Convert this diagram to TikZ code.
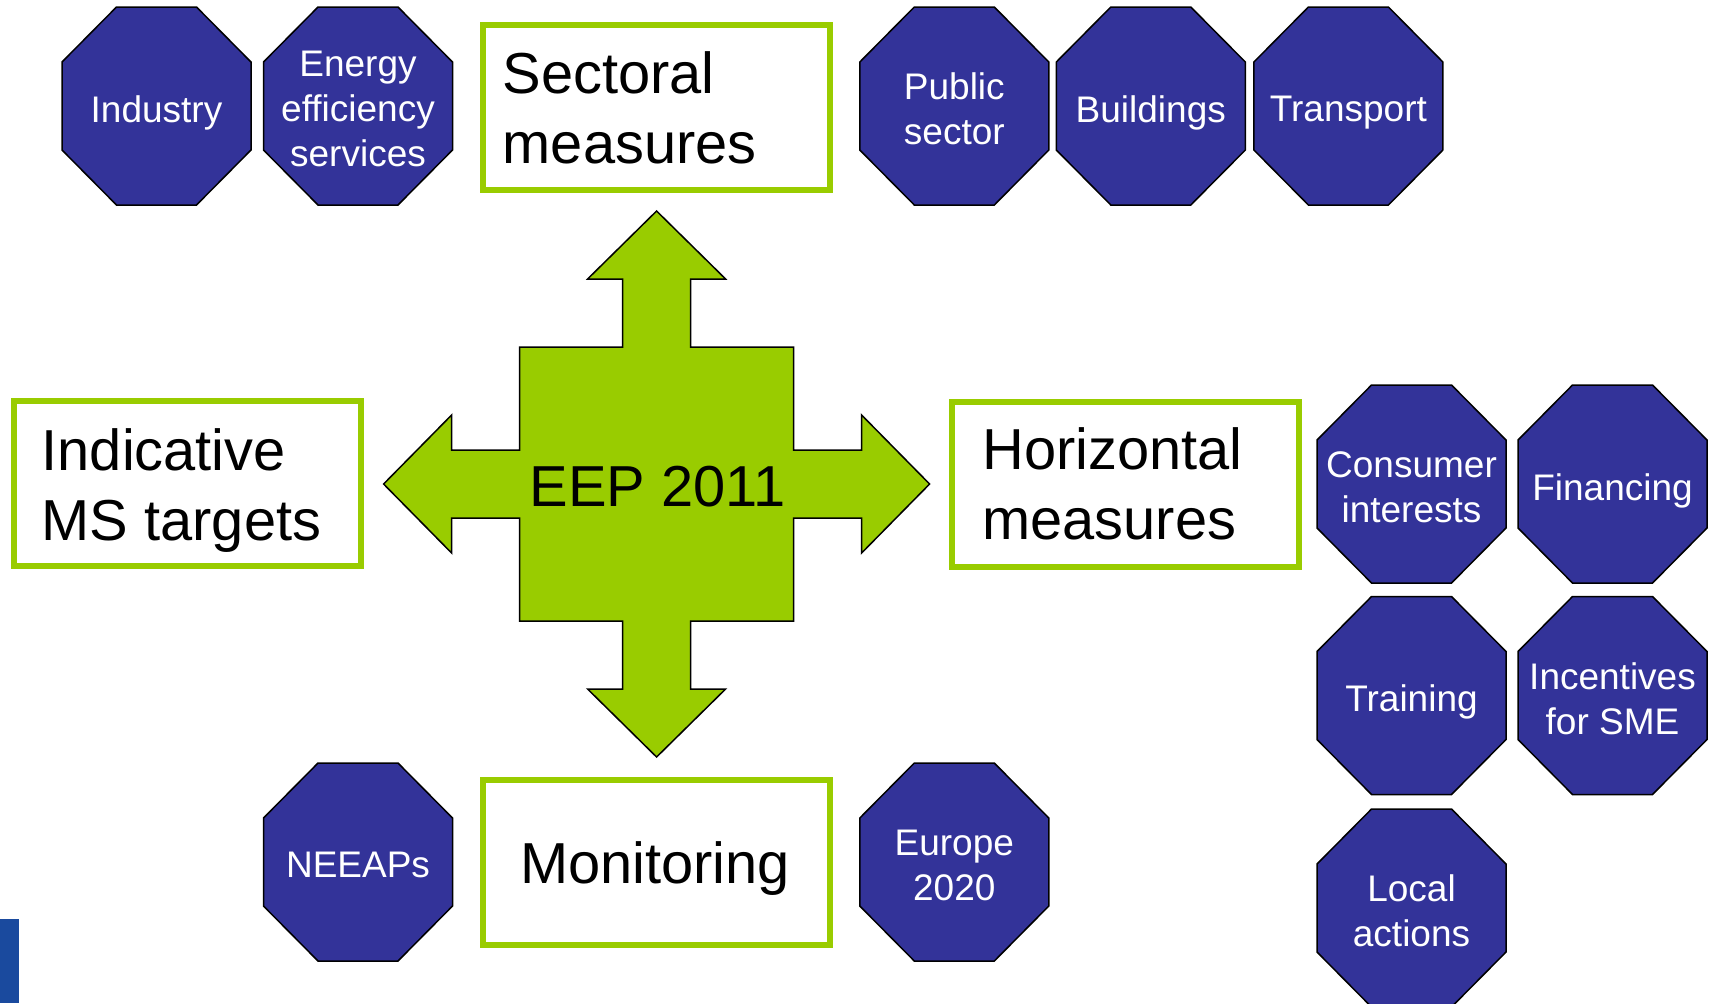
\documentclass[tikz,border=0pt]{standalone}
\usepackage{fontspec}
\setmainfont{Liberation Sans}
\definecolor{octblue}{HTML}{333399}
\definecolor{eegreen}{HTML}{99CC00}
\definecolor{edgeblue}{HTML}{1A4A9E}
\tikzset{
  octfill/.style={fill=octblue, draw=black, line width=0.75pt, line join=miter},
  octtext/.style={text=white, align=center, inner sep=0pt, text depth=0pt,
    font=\fontsize{18.5}{22.5}\selectfont},
  greenbox/.style={draw=eegreen, line width=3pt, fill=white,
    minimum width=173.5pt, minimum height=82.5pt, inner sep=0pt},
  boxtext/.style={anchor=base west, inner sep=0pt, font=\fontsize{28.9}{35}\selectfont},
  centertext/.style={anchor=base, inner sep=0pt, font=\fontsize{28.9}{35}\selectfont},
  crossshape/.style={fill=eegreen, draw=black, line width=0.75pt, line join=miter},
}
\newcommand{\octagon}[4]{%
  \draw[octfill, shift={(#2,#3)}] (-94.5,-44) -- (-94.5,44) -- (-40,99) -- (40,99)
    -- (94.5,44) -- (94.5,-44) -- (40,-99) -- (-40,-99) -- cycle;
  \node[octtext] (#1) at (#2,#3+3) {#4};}
\begin{document}
\begin{tikzpicture}[x=0.5pt, y=-0.5pt]
\useasboundingbox[fill=white] (0,0) rectangle (1712,1003);

% central cross
\draw[crossshape, shift={(656.6,484)}]
  (0,-273) -- (69,-205) -- (34,-205) -- (34,-137) -- (137,-137) -- (137,-34)
  -- (205,-34) -- (205,-69) -- (273,0) -- (205,69) -- (205,34) -- (137,34)
  -- (137,137) -- (34,137) -- (34,205) -- (69,205) -- (0,273) -- (-69,205)
  -- (-34,205) -- (-34,137) -- (-137,137) -- (-137,34) -- (-205,34) -- (-205,69)
  -- (-273,0) -- (-205,-69) -- (-205,-34) -- (-137,-34) -- (-137,-137)
  -- (-34,-137) -- (-34,-205) -- (-69,-205) -- cycle;
\node[centertext] (eep) at (657.5,506.3) {EEP 2011};

% green boxes
\node[greenbox] (sect) at (656.5,107.2) {};
\node[boxtext] (sect-t) at (502.4,93) {\parbox[t]{150pt}{Sectoral\\measures}};
\node[greenbox] (horiz) at (1125,484.5) {};
\node[boxtext] (horiz-t) at (982,469) {\parbox[t]{150pt}{Horizontal\\measures}};
\node[greenbox] (indic) at (187.5,483.5) {};
\node[boxtext] (indic-t) at (41.3,470.7) {\parbox[t]{150pt}{Indicative\\MS targets}};
\node[greenbox] (monit) at (656.5,862.5) {};
\node[centertext] (monit-t) at (655,883.3) {Monitoring};

% octagons: top row
\octagon{industry}{156.5}{106}{Industry}
\octagon{energy}{358}{106}{Energy\\efficiency\\services}
\octagon{public}{954.3}{106}{Public\\sector}
\octagon{buildings}{1150.8}{106}{Buildings}
\octagon{transport}{1348.4}{106}{Transport}

% right group
\octagon{consumer}{1411.5}{484}{Consumer\\interests}
\octagon{financing}{1612.5}{484}{Financing}
\octagon{training}{1411.5}{695.5}{Training}
\octagon{incentives}{1612.5}{695.5}{Incentives\\for SME}
\octagon{local}{1411.5}{908}{Local\\actions}

% bottom row
\octagon{neeaps}{358}{862}{NEEAPs}
\octagon{europe}{954.3}{862}{Europe\\2020}

% edge artifact
\fill[edgeblue] (0,919) rectangle (19,1003);
\end{tikzpicture}
\end{document}
